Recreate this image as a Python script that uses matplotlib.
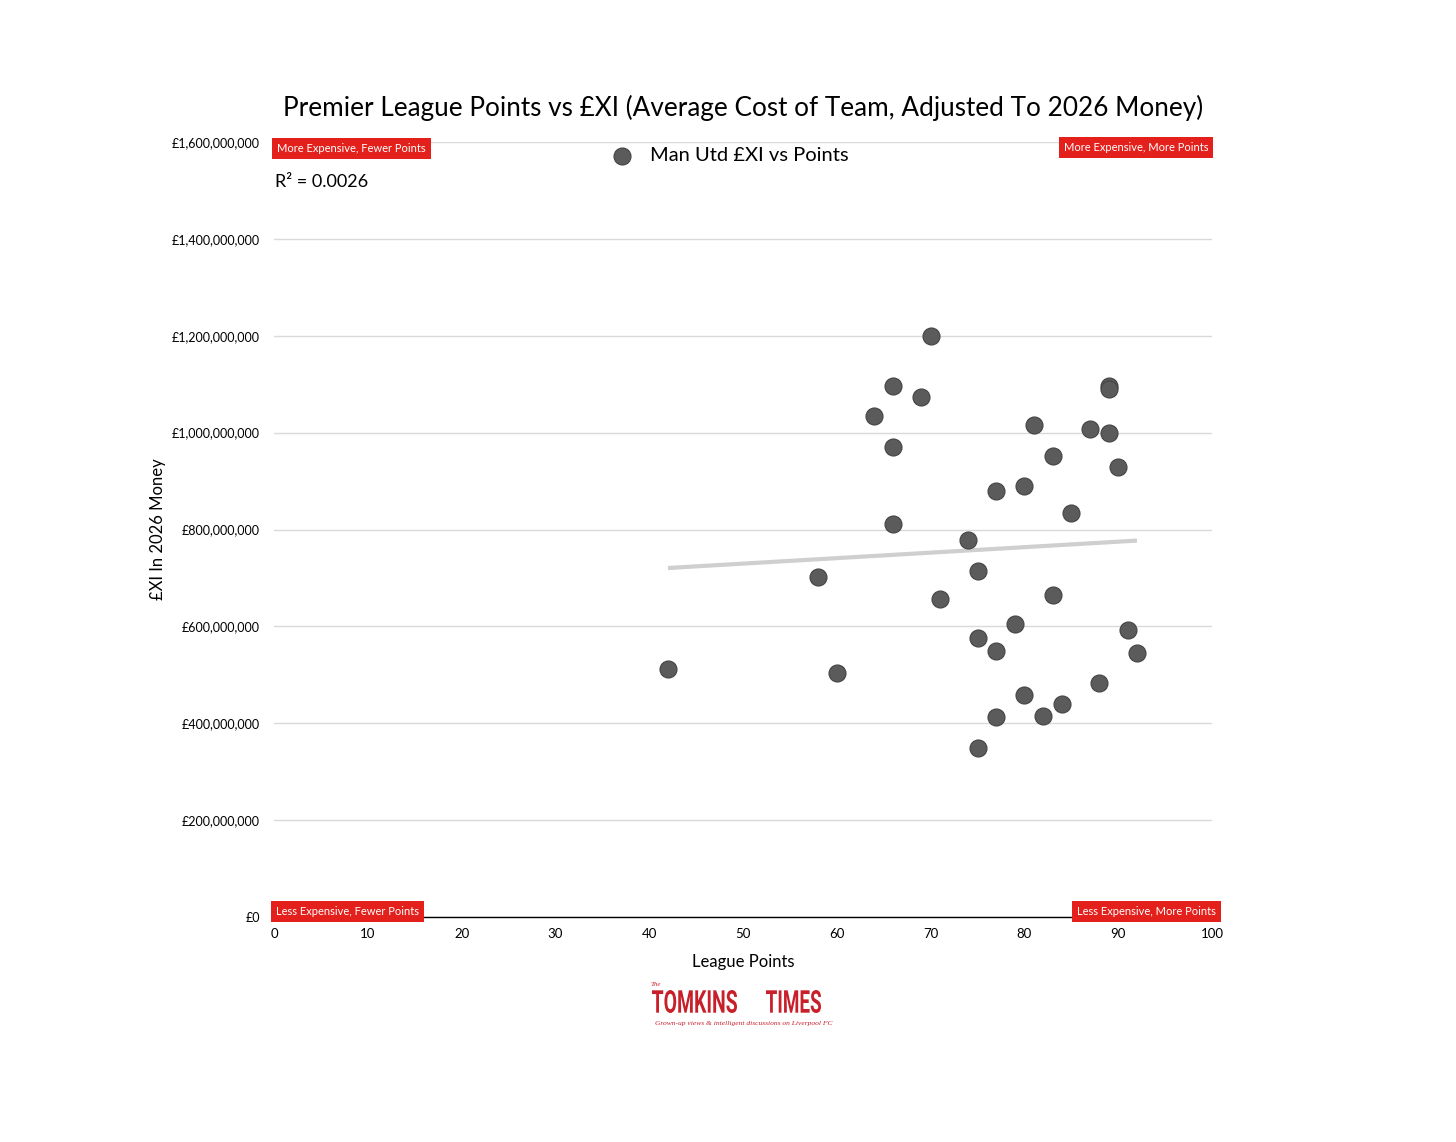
import numpy as np
import matplotlib
matplotlib.use('Agg')
import matplotlib.pyplot as plt
from matplotlib.ticker import FuncFormatter
from matplotlib.textpath import TextPath
from matplotlib.patches import PathPatch
from matplotlib.font_manager import FontProperties
from matplotlib.transforms import Affine2D, offset_copy

plt.rcParams['font.family'] = ['Lato', 'DejaVu Sans']

# Man Utd: league points vs average XI cost (2026 money, £m)
points = [70, 66, 69, 64, 66, 66, 58, 71, 89, 89, 81, 87, 89, 83, 90, 80, 77,
          85, 74, 75, 83, 79, 91, 75, 77, 92, 60, 88, 80, 84, 77, 82, 75, 42]
cost_m = [1200, 1097, 1073, 1035, 971, 811, 702, 656, 1097, 1090, 1015, 1008,
          1000, 952, 930, 890, 879, 835, 779, 715, 664, 604, 592, 577, 549,
          546, 504, 484, 458, 440, 413, 414, 348, 512]
y_ticks = [0, 200e6, 400e6, 600e6, 800e6, 1000e6, 1200e6, 1400e6, 1600e6]
x_ticks = [0, 10, 20, 30, 40, 50, 60, 70, 80, 90, 100]
# label, x, y, horizontal align, pixel nudge
quadrants = [
    ("More Expensive, Fewer Points", 0, 1600e6, 'left', (3, -1)),
    ("More Expensive, More Points", 100, 1600e6, 'right', (-4, 0)),
    ("Less Expensive, Fewer Points", 0, 0, 'left', (2, 0)),
    ("Less Expensive, More Points", 100, 0, 'right', (4, 0)),
]

x = np.array(points, dtype=float)
y = np.array(cost_m, dtype=float) * 1e6

fig = plt.figure(figsize=(14.56, 11.42), dpi=100)
ax = fig.add_axes([274 / 1456, 1 - 917 / 1142, 938 / 1456, 775 / 1142])

ax.set_xlim(0, 100)
ax.set_ylim(0, 1600e6)
ax.set_xticks(x_ticks)
ax.set_yticks(y_ticks)
ax.yaxis.set_major_formatter(FuncFormatter(lambda v, p: f"£{v:,.0f}"))
ax.tick_params(axis='both', length=0, labelsize=9, colors='black')
ax.tick_params(axis='y', pad=10)
ax.tick_params(axis='x', pad=8, labelsize=9.5)
ax.grid(axis='y', color='#d9d9d9', linewidth=1)
ax.set_axisbelow(True)
for side in ['top', 'right', 'left']:
    ax.spines[side].set_visible(False)
ax.spines['bottom'].set_color('black')
ax.spines['bottom'].set_linewidth(1)

# trendline
coef = np.polyfit(x, y, 1)
xs = np.array([x.min(), x.max()])
ax.plot(xs, np.polyval(coef, xs), color='#cfcfcf', linewidth=3, zorder=2,
        solid_capstyle='butt')

ax.scatter(x, y, s=150, color='#5b5b5b', edgecolor='#444444', linewidth=0.8,
           zorder=3, label='Man Utd £XI vs Points')

ax.legend(loc='upper center', bbox_to_anchor=(0.481, 1.017), frameon=False,
          fontsize=14.5, handletextpad=0.4, markerscale=1.0)

ax.text(0.001, 0.959, "R² = 0.0026", transform=ax.transAxes, fontsize=13,
        va='top', ha='left')

for label, qx, qy, ha, (dx, dy) in quadrants:
    tr = offset_copy(ax.transData, fig=fig, x=dx, y=dy, units='dots')
    ax.text(qx, qy, label, fontsize=8, color='white', ha=ha,
            va='top' if qy > 0 else 'bottom', transform=tr,
            bbox=dict(boxstyle='square,pad=0.45', facecolor='#e3201b',
                      edgecolor='none'), zorder=5, clip_on=False)

ax.set_xlabel("League Points", fontsize=12, labelpad=10)
ax.set_ylabel("£XI In 2026 Money", fontsize=12, labelpad=4)

fig.text(743 / 1456, 1 - 108 / 1142,
         "Premier League Points vs £XI (Average Cost of Team, Adjusted To 2026 Money)",
         ha='center', va='center', fontsize=18.8)

# logo, drawn in pixel space
lg = fig.add_axes([0, 0, 1, 1], facecolor='none')
lg.set_xlim(0, 1456)
lg.set_ylim(0, 1142)
lg.axis('off')
logo_red = '#c8202a'
logo_font = FontProperties(family='Roboto', weight='bold')


def draw_word(word, x0, x1, top, bottom):
    tp = TextPath((0, 0), word, size=100, prop=logo_font)
    bb = tp.get_extents()
    sx = (x1 - x0) / bb.width
    sy = (bottom - top) / bb.height
    tr = Affine2D().translate(-bb.x0, -bb.y0).scale(sx, sy).translate(x0, 1142 - bottom)
    lg.add_patch(PathPatch(tr.transform_path(tp), facecolor=logo_red,
                           edgecolor='none'))


draw_word("TOMKINS", 652, 737, 990, 1013)
draw_word("TIMES", 766, 821, 990, 1013)
lg.text(651, 1142 - 984, "The", ha='left', va='center', fontsize=5,
        color=logo_red, style='italic', fontfamily='Liberation Serif')
lg.text(744, 1142 - 1023, "Grown-up views & intelligent discussions on Liverpool FC",
        ha='center', va='center', fontsize=5.4, color=logo_red, style='italic',
        fontfamily='Liberation Serif')

fig.savefig('out.png', dpi=100, facecolor='white')
